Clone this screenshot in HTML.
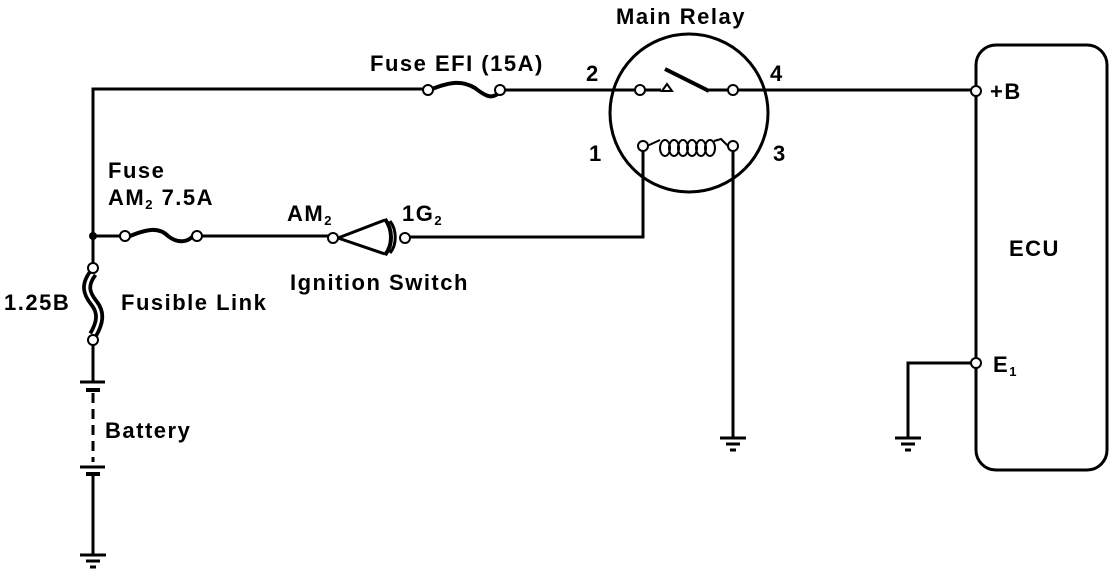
<!DOCTYPE html>
<html><head><style>
html,body{margin:0;padding:0;background:#fff;}
svg{display:block;}
text{font-family:"Liberation Sans",sans-serif;font-size:22px;letter-spacing:1.5px;font-weight:bold;fill:#000;}
</style></head><body>
<svg width="1120" height="578" viewBox="0 0 1120 578" xmlns="http://www.w3.org/2000/svg">
<g stroke="#000" fill="none" stroke-width="3">
<path d="M93 263 V89 H423"/>
<path d="M505 90 H636"/>
<path d="M645 90 H661"/>
<path d="M738 90 H972"/>
<path d="M432 89 C450 82 462 80 475 88 C485 96 492 100 500 92" stroke-width="4"/>
<circle cx="689" cy="113" r="79"/>
<path d="M665 69 L709 91" stroke-width="4"/>
<path d="M709 90 H728"/>
<path d="M662 91 L667 84 L672 91 Z" stroke-width="2"/>
<path d="M647 146 L660 140" stroke-width="2"/>
<g stroke-width="2">
<ellipse cx="665" cy="148" rx="5" ry="8"/>
<ellipse cx="674" cy="148" rx="5" ry="8"/>
<ellipse cx="683" cy="148" rx="5" ry="8"/>
<ellipse cx="692" cy="148" rx="5" ry="8"/>
<ellipse cx="701" cy="148" rx="5" ry="8"/>
<ellipse cx="710" cy="148" rx="5" ry="8"/>
</g>
<path d="M714 141 L721 139 L728 146" stroke-width="2"/>
<path d="M643 151 V237 H410"/>
<path d="M733 151 V437"/>
<path d="M93 236 H120"/>
<path d="M130 236 C145 230 158 226 168 236 C178 244 188 242 193 236" stroke-width="4"/>
<path d="M202 236 H328"/>
<path d="M338 238 L385 220 M338 238 L385 254" stroke-width="3"/>
<path d="M385 219 C393 230 393 245 385 255" stroke-width="4"/>
<path d="M390 221 C397 230 397 245 390 253" stroke-width="3"/>
<path d="M93 273 C84 285 86 293 94 303 C102 313 100 323 93 335" stroke-width="10"/>
<path d="M93 273 C84 285 86 293 94 303 C102 313 100 323 93 335" stroke="#fff" stroke-width="2.5"/>
<path d="M93 345 V381"/>
<path d="M80 382 H105"/>
<path d="M86 390 H100" stroke-width="4"/>
<path d="M93 393 V462" stroke-dasharray="10 6"/>
<path d="M80 467 H105"/>
<path d="M86 474 H100" stroke-width="4"/>
<path d="M93 476 V555"/>
<path d="M80 555 H106 M86 561 H100 M90 567 H96"/>
<path d="M720 438 H746 M726 444 H740 M730 450 H736"/>
<path d="M972 363 H908 V437"/>
<path d="M895 438 H921 M901 444 H915 M905 450 H911"/>
<rect x="976" y="45" width="131" height="425" rx="20"/>
</g>
<g stroke="#000" stroke-width="2" fill="#fff">
<circle cx="428" cy="90" r="5"/><circle cx="500" cy="90" r="5"/>
<circle cx="640" cy="90" r="5"/><circle cx="733" cy="90" r="5"/>
<circle cx="643" cy="146" r="5"/><circle cx="733" cy="146" r="5"/>
<circle cx="125" cy="236" r="5"/><circle cx="197" cy="236" r="5"/>
<circle cx="333" cy="238" r="5"/><circle cx="405" cy="238" r="5"/>
<circle cx="93" cy="268" r="5"/><circle cx="93" cy="340" r="5"/>
<circle cx="976" cy="91" r="5"/><circle cx="976" cy="363" r="5"/>
</g>
<circle cx="93" cy="236" r="4" fill="#000"/>
<text x="616" y="24">Main Relay</text>
<text x="370" y="71">Fuse EFI (15A)</text>
<text x="586" y="81">2</text>
<text x="770" y="81">4</text>
<text x="589" y="161">1</text>
<text x="773" y="161">3</text>
<text x="108" y="178">Fuse</text>
<text x="108" y="205">AM<tspan font-size="13" dy="4">2</tspan><tspan dy="-4"> 7.5A</tspan></text>
<text x="287" y="221">AM<tspan font-size="13" dy="4">2</tspan></text>
<text x="402" y="221">1G<tspan font-size="13" dy="4">2</tspan></text>
<text x="290" y="290">Ignition Switch</text>
<text x="4" y="310">1.25B</text>
<text x="121" y="310">Fusible Link</text>
<text x="105" y="438">Battery</text>
<text x="990" y="99">+B</text>
<text x="1009" y="256">ECU</text>
<text x="993" y="372">E<tspan font-size="13" dy="4">1</tspan></text>
</svg>
</body></html>
